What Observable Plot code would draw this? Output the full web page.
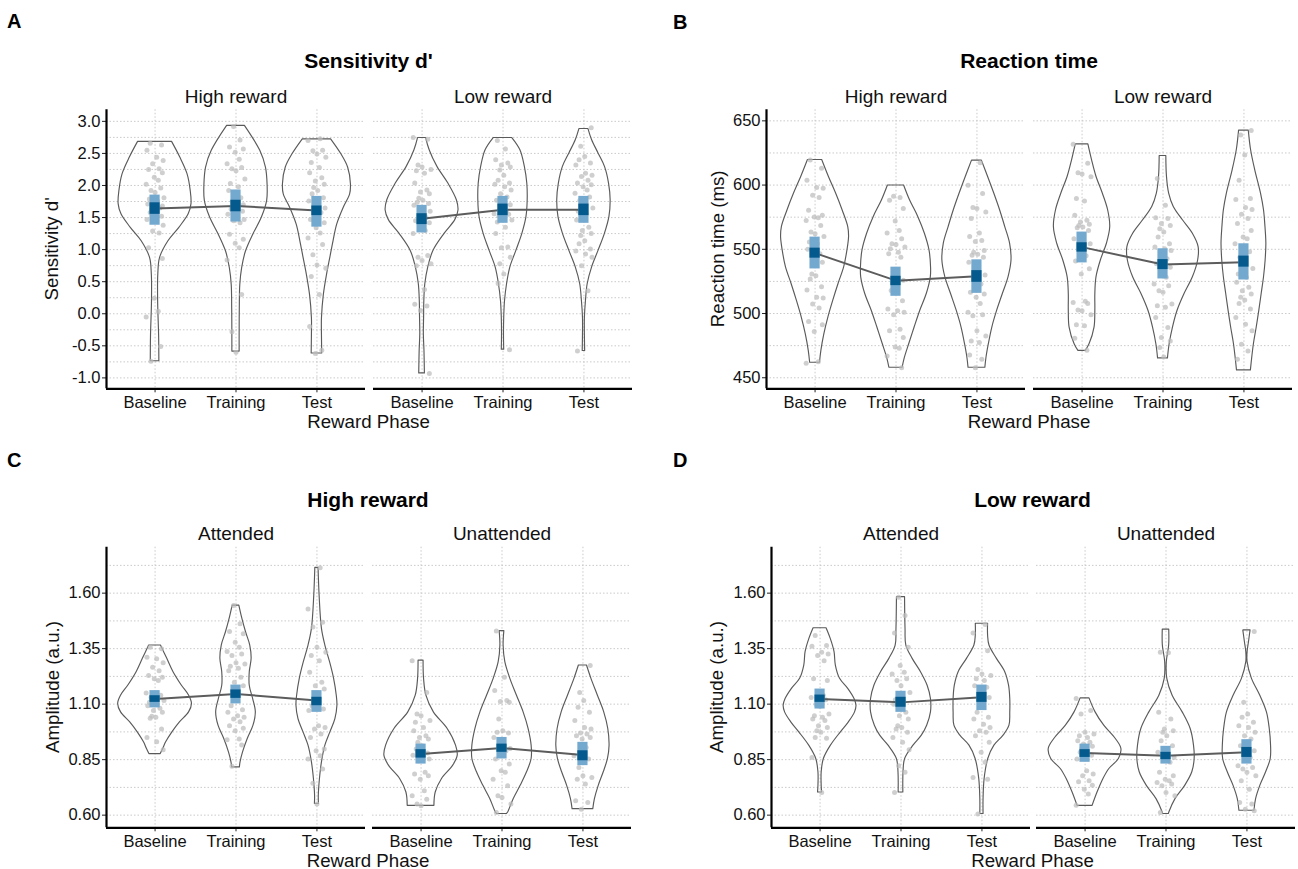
<!DOCTYPE html>
<html><head><meta charset="utf-8">
<script src="https://cdn.jsdelivr.net/npm/d3@7"></script>
<script src="https://cdn.jsdelivr.net/npm/@observablehq/plot@0.6"></script>
<style>
html,body{margin:0;padding:0;background:#fff;}
#page{position:relative;width:1298px;height:869px;overflow:hidden;font-family:"Liberation Sans",Arial,sans-serif;background:#fff;}
.panel{position:absolute;}
#overlay{position:absolute;left:0;top:0;pointer-events:none;}
</style></head><body><div id="page"></div>
<script>
// ---------------- shared categories / labels ----------------
const PHASES = ["Baseline", "Training", "Test"];
const X_DOMAIN = [0.4, 3.6];
const JITTER = [-0.06, 0.08, -0.10, 0.02, 0.10, -0.03, 0.05, -0.08, 0.09, -0.01, 0.04, -0.11, 0.07, -0.05, 0.00, 0.11, -0.07, 0.03, -0.09, 0.06, -0.02, 0.09, -0.04, 0.01];
const PANEL_LETTERS = ["A", "B", "C", "D"];
const PANEL_TITLES = ["Sensitivity d'", "Reaction time", "High reward", "Low reward"];
const Y_TITLES = ["Sensitivity d'", "Reaction time (ms)", "Amplitude (a.u.)", "Amplitude (a.u.)"];
const X_TITLE = "Reward Phase";
const REWARD_FACETS = ["High reward", "Low reward"];
const ATTN_FACETS = ["Attended", "Unattended"];

// ---------------- Panel A: Sensitivity d' ----------------
const A_TICKS = [-1.0, -0.5, 0.0, 0.5, 1.0, 1.5, 2.0, 2.5, 3.0];
const A_MINOR = [-0.75, -0.25, 0.25, 0.75, 1.25, 1.75, 2.25, 2.75];
const A_HIGH_VIOLIN = [
  [[2.68,0.21],[2.44,0.31],[2.18,0.40],[1.92,0.44],[1.71,0.45],[1.55,0.415],[1.34,0.30],[1.13,0.165],[0.87,0.062],[0.61,0.04],[0.19,0.038],[-0.34,0.05],[-0.74,0.053]],
  [[2.93,0.11],[2.54,0.30],[2.28,0.37],[2.02,0.39],[1.76,0.385],[1.50,0.32],[1.24,0.216],[0.97,0.123],[0.71,0.076],[0.45,0.053],[0.08,0.047],[-0.34,0.045],[-0.59,0.045]],
  [[2.72,0.175],[2.49,0.30],[2.28,0.385],[2.02,0.42],[1.86,0.41],[1.65,0.33],[1.39,0.25],[1.13,0.205],[0.87,0.165],[0.61,0.125],[0.29,0.085],[-0.07,0.062],[-0.34,0.062],[-0.62,0.065]]
];
const A_HIGH_POINTS = [
  [2.66,2.63,2.55,2.44,2.39,2.34,2.26,2.25,2.20,2.13,2.08,2.02,1.96,1.92,1.89,1.81,1.79,1.76,1.71,1.65,1.60,1.68,1.62,1.55,1.58,1.52,1.47,1.45,1.38,1.29,1.26,1.03,0.86,0.24,0.04,-0.05,-0.51,-0.74],
  [2.92,2.71,2.60,2.57,2.52,2.41,2.34,2.28,2.26,2.23,2.10,2.03,1.98,1.92,1.81,1.76,1.70,1.75,1.66,1.63,1.60,1.55,1.50,1.47,1.45,1.42,1.24,1.16,1.10,1.03,0.84,0.30,-0.28,-0.60],
  [2.73,2.70,2.55,2.54,2.49,2.44,2.36,2.28,2.20,2.12,2.07,2.02,1.97,1.92,1.87,1.81,1.76,1.71,1.65,1.60,1.58,1.47,1.42,1.34,1.26,1.18,1.08,0.92,0.76,0.71,0.58,0.30,-0.20,-0.57,-0.62]
];
const A_HIGH_MEAN = [1.64, 1.68, 1.61];
const A_HIGH_SE = [[1.55,1.73],[1.59,1.77],[1.53,1.68]];
const A_HIGH_CI = [[1.38,1.85],[1.43,1.93],[1.35,1.83]];
const A_LOW_VIOLIN = [
  [[2.74,0.05],[2.55,0.094],[2.29,0.19],[2.03,0.325],[1.77,0.43],[1.61,0.45],[1.46,0.41],[1.25,0.28],[0.98,0.14],[0.72,0.076],[0.46,0.04],[0.20,0.028],[-0.06,0.025],[-0.32,0.022],[-0.59,0.03],[-0.93,0.035]],
  [[2.74,0.115],[2.55,0.215],[2.29,0.27],[2.03,0.30],[1.77,0.305],[1.51,0.29],[1.25,0.24],[0.98,0.165],[0.72,0.09],[0.46,0.05],[0.20,0.025],[-0.06,0.015],[-0.32,0.012],[-0.56,0.015]],
  [[2.88,0.056],[2.71,0.10],[2.50,0.18],[2.29,0.26],[2.03,0.31],[1.77,0.33],[1.51,0.315],[1.25,0.26],[0.98,0.18],[0.72,0.10],[0.46,0.046],[0.20,0.025],[-0.06,0.012],[-0.58,0.015]]
];
const A_LOW_POINTS = [
  [2.75,2.72,2.32,2.29,2.25,2.23,2.19,2.04,1.93,1.90,1.87,1.80,1.77,1.74,1.72,1.69,1.64,1.60,1.56,1.50,1.45,1.42,1.35,1.30,1.25,0.91,0.88,0.83,0.78,0.75,0.38,0.15,0.12,0.05,-0.93],
  [2.70,2.57,2.40,2.35,2.32,2.29,2.24,2.16,2.08,2.04,2.02,1.98,1.93,1.87,1.82,1.77,1.70,1.66,1.60,1.56,1.55,1.52,1.51,1.46,1.43,1.35,1.25,1.04,1.03,0.88,0.78,0.62,0.47,-0.56],
  [2.90,2.61,2.45,2.40,2.35,2.32,2.19,2.16,2.14,2.08,2.04,2.01,1.98,1.93,1.88,1.82,1.77,1.66,1.65,1.60,1.56,1.46,1.35,1.30,1.25,1.22,1.14,1.09,1.01,0.98,0.93,0.88,0.75,0.36,-0.58]
];
const A_LOW_MEAN = [1.48, 1.62, 1.62];
const A_LOW_SE = [[1.39,1.56],[1.53,1.71],[1.53,1.71]];
const A_LOW_CI = [[1.26,1.69],[1.41,1.83],[1.41,1.83]];

// ---------------- Panel B: Reaction time ----------------
const B_TICKS = [450, 500, 550, 600, 650];
const B_MINOR = [475, 525, 575, 625];
const B_HIGH_VIOLIN = [
  [[619.5,0.088],[606.5,0.17],[593.4,0.26],[580.4,0.34],[567.3,0.41],[559.5,0.42],[549.1,0.40],[536.1,0.36],[523.0,0.29],[510.0,0.225],[497.0,0.165],[483.9,0.115],[470.9,0.078],[461.7,0.061]],
  [[599.7,0.10],[588.2,0.173],[575.2,0.275],[562.1,0.357],[549.1,0.414],[536.1,0.433],[528.2,0.43],[515.2,0.38],[502.2,0.30],[489.1,0.23],[476.1,0.163],[465.6,0.11],[457.8,0.082]],
  [[619.0,0.061],[606.5,0.137],[593.4,0.214],[580.4,0.286],[567.3,0.35],[554.3,0.41],[541.3,0.427],[528.2,0.39],[515.2,0.32],[502.2,0.25],[489.1,0.19],[476.1,0.147],[465.6,0.118],[457.8,0.104]]
];
const B_HIGH_POINTS = [
  [619.5,613.0,603.8,598.1,597.5,592.1,590.3,580.4,576.5,575.2,574.6,572.5,568.6,563.4,562.1,560.0,555.6,554.3,550.0,546.5,543.3,540.0,530.8,529.5,526.9,520.9,518.3,512.6,512.1,507.4,504.3,493.8,491.2,486.0,462.5,461.2],
  [591.3,590.3,588.2,581.7,572.0,564.7,562.6,558.2,554.3,553.8,551.7,550.4,547.8,546.5,543.9,531.1,525.9,524.0,520.6,518.0,510.0,503.5,502.2,500.9,499.0,487.8,486.5,481.3,474.0,473.0,467.0,457.8],
  [617.4,599.9,593.4,582.5,581.7,579.1,573.9,562.6,560.0,556.9,556.0,549.1,547.8,546.1,545.3,543.9,540.0,537.4,530.0,527.0,523.0,516.5,515.2,512.6,507.9,500.9,499.0,498.2,486.5,482.6,478.7,477.4,467.8,464.4,457.8]
];
const B_HIGH_MEAN = [547.0, 525.6, 529.0];
const B_HIGH_SE = [[543.1,550.9],[521.7,529.0],[524.3,533.4]];
const B_HIGH_CI = [[534.7,559.5],[513.4,536.1],[515.7,541.8]];
const B_LOW_VIOLIN = [
  [[631.7,0.078],[619.5,0.123],[606.5,0.178],[593.4,0.256],[580.4,0.322],[567.3,0.348],[554.3,0.307],[541.3,0.232],[528.2,0.178],[515.2,0.164],[502.2,0.164],[489.1,0.154],[476.1,0.092],[470.9,0.045]],
  [[622.6,0.041],[606.5,0.049],[593.4,0.076],[583.0,0.133],[572.6,0.246],[562.1,0.369],[551.7,0.44],[541.3,0.434],[528.2,0.369],[515.2,0.266],[502.2,0.18],[489.1,0.123],[476.1,0.082],[465.1,0.061]],
  [[642.4,0.06],[627.3,0.088],[611.7,0.139],[593.4,0.211],[580.4,0.248],[567.3,0.266],[554.3,0.277],[541.3,0.268],[528.2,0.248],[515.2,0.219],[502.2,0.19],[489.1,0.158],[476.1,0.123],[463.0,0.098],[455.7,0.086]]
];
const B_LOW_POINTS = [
  [631.7,616.9,609.6,608.6,606.5,589.5,587.6,576.5,572.6,571.3,569.5,568.6,567.3,566.8,564.7,558.2,555.0,554.3,550.0,545.0,540.8,534.8,530.8,509.5,508.6,507.9,502.7,502.2,499.0,491.2,490.4,480.8,471.4],
  [605.2,584.3,574.6,573.9,570.0,568.6,566.0,563.4,559.5,554.3,551.7,550.4,549.1,547.0,542.6,538.7,536.1,530.8,528.2,523.0,521.7,517.8,516.5,507.4,506.1,504.8,496.9,489.1,481.3,478.7,473.5,466.2],
  [642.4,639.0,623.4,603.8,589.5,588.7,582.5,580.9,577.2,573.9,570.0,564.7,559.5,558.2,554.3,548.0,543.9,538.7,535.0,530.8,528.2,524.3,520.4,517.8,515.2,512.6,510.5,507.9,503.5,497.0,491.7,486.5,476.1,470.9,464.4]
];
const B_LOW_MEAN = [551.7, 538.1, 540.0];
const B_LOW_SE = [[547.8,555.1],[534.2,542.0],[536.1,544.7]];
const B_LOW_CI = [[539.4,563.4],[526.9,550.4],[526.1,554.3]];

// ---------------- Panels C & D: Amplitude ----------------
const AMP_TICKS = [0.60, 0.85, 1.10, 1.35, 1.60];
const AMP_MINOR = [0.725, 0.975, 1.225, 1.475, 1.725];
const C_ATT_VIOLIN = [
  [[1.364,0.073],[1.304,0.151],[1.244,0.228],[1.183,0.332],[1.138,0.421],[1.101,0.456],[1.063,0.42],[1.018,0.307],[0.973,0.214],[0.928,0.137],[0.898,0.10],[0.875,0.07]],
  [[1.544,0.041],[1.484,0.079],[1.424,0.124],[1.364,0.176],[1.304,0.193],[1.244,0.17],[1.183,0.17],[1.123,0.212],[1.063,0.245],[1.003,0.216],[0.943,0.145],[0.883,0.087],[0.838,0.056],[0.815,0.048]],
  [[1.714,0.02],[1.589,0.033],[1.439,0.062],[1.364,0.104],[1.289,0.162],[1.214,0.212],[1.138,0.245],[1.093,0.253],[1.033,0.228],[0.973,0.166],[0.913,0.104],[0.838,0.062],[0.762,0.037],[0.687,0.023],[0.650,0.025]]
];
const C_ATT_POINTS = [
  [1.356,1.349,1.311,1.304,1.286,1.266,1.251,1.229,1.221,1.214,1.206,1.15,1.14,1.13,1.12,1.116,1.108,1.10,1.093,1.081,1.071,1.063,1.045,1.041,1.036,0.988,0.950,0.931,0.895],
  [1.544,1.462,1.427,1.417,1.379,1.356,1.337,1.326,1.319,1.286,1.281,1.271,1.262,1.251,1.221,1.199,1.183,1.16,1.14,1.093,1.075,1.063,1.048,1.041,1.033,1.021,1.003,0.991,0.980,0.943,0.940,0.916,0.820],
  [1.714,1.529,1.469,1.447,1.356,1.334,1.319,1.296,1.244,1.199,1.183,1.168,1.12,1.11,1.093,1.078,1.071,1.003,0.995,0.988,0.965,0.950,0.898,0.890,0.868,0.853,0.808,0.744,0.650]
];
const C_ATT_MEAN = [1.123, 1.146, 1.116];
const C_ATT_SE = [[1.108,1.138],[1.126,1.164],[1.093,1.131]];
const C_ATT_CI = [[1.083,1.161],[1.101,1.186],[1.063,1.161]];
const C_UNATT_VIOLIN = [
  [[1.296,0.031],[1.214,0.037],[1.138,0.066],[1.063,0.158],[0.988,0.329],[0.913,0.432],[0.868,0.453],[0.823,0.397],[0.762,0.257],[0.702,0.181],[0.642,0.165]],
  [[1.429,0.029],[1.364,0.02],[1.289,0.041],[1.214,0.103],[1.138,0.185],[1.063,0.267],[0.988,0.329],[0.913,0.366],[0.853,0.366],[0.793,0.309],[0.732,0.23],[0.672,0.144],[0.612,0.076],[0.605,0.06]],
  [[1.274,0.05],[1.214,0.105],[1.138,0.185],[1.063,0.263],[0.988,0.313],[0.913,0.329],[0.853,0.309],[0.793,0.257],[0.732,0.195],[0.672,0.148],[0.627,0.128]]
];
const C_UNATT_POINTS = [
  [1.296,1.153,1.056,1.048,1.026,1.018,0.995,0.980,0.958,0.950,0.943,0.928,0.913,0.898,0.88,0.87,0.86,0.853,0.845,0.793,0.785,0.778,0.762,0.710,0.687,0.672,0.650,0.642],
  [1.429,1.221,1.161,1.116,1.112,1.108,1.033,0.980,0.973,0.970,0.950,0.913,0.90,0.895,0.89,0.853,0.830,0.800,0.793,0.762,0.732,0.687,0.680,0.650,0.612],
  [1.274,1.153,1.116,1.086,1.063,1.026,0.995,0.988,0.970,0.965,0.958,0.950,0.943,0.905,0.868,0.853,0.815,0.778,0.770,0.762,0.740,0.665,0.657,0.627]
];
const C_UNATT_MEAN = [0.875, 0.902, 0.871];
const C_UNATT_SE = [[0.857,0.895],[0.883,0.920],[0.845,0.890]];
const C_UNATT_CI = [[0.830,0.920],[0.853,0.950],[0.823,0.928]];

const D_ATT_VIOLIN = [
  [[1.442,0.08],[1.394,0.132],[1.334,0.179],[1.274,0.195],[1.214,0.247],[1.168,0.35],[1.123,0.426],[1.093,0.45],[1.063,0.432],[1.018,0.356],[0.973,0.257],[0.913,0.134],[0.853,0.047],[0.793,0.02],[0.732,0.02],[0.702,0.025]],
  [[1.582,0.05],[1.439,0.056],[1.364,0.066],[1.304,0.144],[1.244,0.247],[1.183,0.329],[1.123,0.37],[1.063,0.37],[1.003,0.323],[0.958,0.257],[0.913,0.154],[0.853,0.051],[0.793,0.031],[0.702,0.029]],
  [[1.462,0.076],[1.409,0.076],[1.364,0.093],[1.304,0.185],[1.244,0.288],[1.183,0.335],[1.123,0.35],[1.063,0.35],[1.003,0.34],[0.958,0.267],[0.913,0.154],[0.853,0.078],[0.762,0.033],[0.672,0.02],[0.605,0.02]]
];
const D_ATT_POINTS = [
  [1.409,1.364,1.361,1.334,1.326,1.319,1.296,1.214,1.206,1.153,1.14,1.13,1.12,1.10,1.09,1.056,1.048,1.041,1.033,1.026,1.003,0.995,0.980,0.973,0.950,0.946,0.860,0.702],
  [1.582,1.499,1.421,1.356,1.274,1.244,1.236,1.214,1.206,1.183,1.153,1.12,1.11,1.10,1.063,1.048,1.033,1.003,0.995,0.988,0.973,0.950,0.928,0.895,0.823,0.793,0.702],
  [1.459,1.421,1.341,1.256,1.236,1.229,1.214,1.206,1.183,1.176,1.153,1.13,1.12,1.093,1.063,1.041,1.033,1.010,0.995,0.980,0.973,0.958,0.928,0.883,0.838,0.770,0.762,0.605]
];
const D_ATT_MEAN = [1.123, 1.108, 1.131];
const D_ATT_SE = [[1.108,1.141],[1.086,1.131],[1.108,1.153]];
const D_ATT_CI = [[1.078,1.168],[1.063,1.158],[1.071,1.186]];
const D_UNATT_VIOLIN = [
  [[1.126,0.055],[1.063,0.13],[1.003,0.237],[0.943,0.38],[0.898,0.449],[0.853,0.418],[0.808,0.30],[0.762,0.226],[0.702,0.154],[0.642,0.093]],
  [[1.436,0.04],[1.364,0.039],[1.289,0.01],[1.214,0.016],[1.138,0.082],[1.063,0.206],[0.988,0.305],[0.913,0.346],[0.853,0.354],[0.793,0.325],[0.732,0.237],[0.672,0.117],[0.612,0.041],[0.605,0.035]],
  [[1.432,0.045],[1.379,0.025],[1.334,0.008],[1.289,0.008],[1.214,0.062],[1.138,0.165],[1.063,0.247],[0.988,0.282],[0.913,0.298],[0.853,0.294],[0.793,0.237],[0.732,0.165],[0.672,0.113],[0.620,0.093]]
];
const D_UNATT_POINTS = [
  [1.126,1.071,1.056,0.973,0.965,0.958,0.950,0.935,0.928,0.92,0.91,0.90,0.89,0.883,0.87,0.853,0.800,0.785,0.778,0.755,0.750,0.735,0.717,0.695,0.645],
  [1.334,1.331,1.063,1.033,0.988,0.980,0.973,0.958,0.935,0.913,0.883,0.87,0.86,0.853,0.838,0.793,0.778,0.762,0.755,0.747,0.740,0.732,0.702,0.687,0.612],
  [1.427,1.108,1.056,1.041,1.018,1.003,0.995,0.973,0.958,0.943,0.913,0.89,0.883,0.86,0.823,0.815,0.808,0.793,0.778,0.755,0.717,0.657,0.650,0.627,0.620]
];
const D_UNATT_MEAN = [0.880, 0.868, 0.883];
const D_UNATT_SE = [[0.860,0.895],[0.850,0.883],[0.860,0.905]];
const D_UNATT_CI = [[0.838,0.920],[0.830,0.910],[0.830,0.940]];

// ---------------- styles ----------------
const FONT = '"Liberation Sans", Arial, Helvetica, sans-serif';
const INK = "#111";
const GRID = {stroke: "#c4c4c4", strokeWidth: 0.9, strokeDasharray: "1.5,2"};
const CI_FILL = "#74a9cf", SE_FILL = "#045a8d";
const BOX_HALF = 0.063;

function buildPanel(c) {
  const vrows = [], pts = [], stats = [];
  c.facets.forEach((f, fi) => {
    PHASES.forEach((ph, i) => {
      const pos = i + 1;
      c.violins[fi][i].forEach(([v, w]) => vrows.push({f, id: f + "|" + ph, y: v, x1: pos - w, x2: pos + w}));
      c.points[fi][i].forEach((v, k) => pts.push({f, x: pos + JITTER[(k + i * 5 + fi * 11) % JITTER.length], y: v}));
      stats.push({f, x: pos, mean: c.mean[fi][i], seLo: c.se[fi][i][0], seHi: c.se[fi][i][1], ciLo: c.ci[fi][i][0], ciHi: c.ci[fi][i][1]});
    });
  });
  const W = c.facetW, S = 2 * W + c.gap;
  const marginLeft = c.left - c.svgLeft;
  const marginRight = c.svgW - marginLeft - S;
  const marginTop = c.plotTop - c.svgTop;
  const marginBottom = c.svgTop + c.svgH - c.plotBottom;
  const chart = Plot.plot({
    width: c.svgW, height: c.svgH,
    marginLeft, marginRight, marginTop, marginBottom,
    style: {fontFamily: FONT, background: "transparent", color: INK, overflow: "visible"},
    fx: {domain: c.facets, paddingInner: c.gap / (W + c.gap), paddingOuter: 0, axis: null},
    x: {domain: X_DOMAIN},
    y: {domain: c.yDomain},
    marks: [
      Plot.ruleY(c.ticks, GRID),
      Plot.ruleY(c.minor, GRID),
      Plot.ruleX([1, 2, 3], GRID),
      Plot.areaX(vrows, {y: "y", x1: "x1", x2: "x2", z: "id", fx: "f", fill: "none", stroke: "#5a5a5a", strokeWidth: 1.15, curve: "catmull-rom"}),
      Plot.dot(pts, {x: "x", y: "y", fx: "f", r: 2.5, fill: "#bcbcbc", fillOpacity: 0.72, stroke: "none"}),
      Plot.line(stats, {x: "x", y: "mean", z: "f", fx: "f", stroke: "#5c5c5c", strokeWidth: 2}),
      Plot.rect(stats, {x1: d => d.x - BOX_HALF, x2: d => d.x + BOX_HALF, y1: "ciLo", y2: "ciHi", fx: "f", fill: CI_FILL}),
      Plot.rect(stats, {x1: d => d.x - BOX_HALF, x2: d => d.x + BOX_HALF, y1: "seLo", y2: "seHi", fx: "f", fill: SE_FILL}),
      Plot.axisY({ticks: c.ticks, tickFormat: c.fmt, tickSize: 4, tickPadding: 2, fontSize: 16.5, label: null, stroke: "#222"}),
      Plot.axisX({ticks: [1, 2, 3], tickFormat: d => PHASES[d - 1], tickSize: 4, tickPadding: 3, fontSize: 16.5, label: null, stroke: "#222"}),
      Plot.ruleY([c.yDomain[0]], {stroke: "#000", strokeWidth: 2.2}),
      Plot.ruleX([X_DOMAIN[0]], {fx: [c.facets[0]], stroke: "#000", strokeWidth: 2.2}),
      Plot.text(c.facets, {fx: d => d, text: d => d, frameAnchor: "top", lineAnchor: "bottom", dy: -7, fontSize: 19, fill: INK})
    ]
  });
  const div = document.createElement("div");
  div.className = "panel";
  div.style.left = c.svgLeft + "px";
  div.style.top = c.svgTop + "px";
  div.style.width = c.svgW + "px";
  div.style.height = c.svgH + "px";
  div.appendChild(chart);
  document.getElementById("page").appendChild(div);
}

const fmt1 = d => d.toFixed(1);
const fmt0 = d => d.toFixed(0);
const fmt2 = d => d.toFixed(2);

const PANELS = [
  {facets: REWARD_FACETS, violins: [A_HIGH_VIOLIN, A_LOW_VIOLIN], points: [A_HIGH_POINTS, A_LOW_POINTS],
   mean: [A_HIGH_MEAN, A_LOW_MEAN], se: [A_HIGH_SE, A_LOW_SE], ci: [A_HIGH_CI, A_LOW_CI],
   ticks: A_TICKS, minor: A_MINOR, fmt: fmt1, yDomain: [-1.17, 3.18],
   svgLeft: 0, svgTop: 75, svgW: 640, svgH: 345, left: 105.5, facetW: 259, gap: 8, plotTop: 109.3, plotBottom: 388.3},
  {facets: REWARD_FACETS, violins: [B_HIGH_VIOLIN, B_LOW_VIOLIN], points: [B_HIGH_POINTS, B_LOW_POINTS],
   mean: [B_HIGH_MEAN, B_LOW_MEAN], se: [B_HIGH_SE, B_LOW_SE], ci: [B_HIGH_CI, B_LOW_CI],
   ticks: B_TICKS, minor: B_MINOR, fmt: fmt0, yDomain: [441.4, 658.6],
   svgLeft: 640, svgTop: 75, svgW: 658, svgH: 345, left: 766, facetW: 259, gap: 8, plotTop: 109.3, plotBottom: 388.3},
  {facets: ATTN_FACETS, violins: [C_ATT_VIOLIN, C_UNATT_VIOLIN], points: [C_ATT_POINTS, C_UNATT_POINTS],
   mean: [C_ATT_MEAN, C_UNATT_MEAN], se: [C_ATT_SE, C_UNATT_SE], ci: [C_ATT_CI, C_UNATT_CI],
   ticks: AMP_TICKS, minor: AMP_MINOR, fmt: fmt2, yDomain: [0.543, 1.807],
   svgLeft: 0, svgTop: 515, svgW: 640, svgH: 354, left: 105.5, facetW: 259, gap: 7, plotTop: 546.7, plotBottom: 827.3},
  {facets: ATTN_FACETS, violins: [D_ATT_VIOLIN, D_UNATT_VIOLIN], points: [D_ATT_POINTS, D_UNATT_POINTS],
   mean: [D_ATT_MEAN, D_UNATT_MEAN], se: [D_ATT_SE, D_UNATT_SE], ci: [D_ATT_CI, D_UNATT_CI],
   ticks: AMP_TICKS, minor: AMP_MINOR, fmt: fmt2, yDomain: [0.543, 1.807],
   svgLeft: 640, svgTop: 515, svgW: 658, svgH: 354, left: 770.5, facetW: 259, gap: 6, plotTop: 546.7, plotBottom: 827.3}
];
PANELS.forEach(buildPanel);

// ---------------- overlay text: letters, titles, axis titles ----------------
const LAYOUT = [
  {letter: [7, 28], title: [368.5, 68.3], ytitle: [58, 248.8], xtitle: [368.5, 428.3]},
  {letter: [673, 29], title: [1029, 68.3], ytitle: [723.5, 248.8], xtitle: [1029, 428.3]},
  {letter: [7, 467], title: [368, 506.7], ytitle: [58.5, 687], xtitle: [368, 866.5]},
  {letter: [673, 467], title: [1032.5, 506.7], ytitle: [723, 687], xtitle: [1032.5, 866.5]}
];
const ov = d3.select("#page").append("svg").attr("id", "overlay").attr("width", 1298).attr("height", 869)
  .style("font-family", FONT);
LAYOUT.forEach((L, i) => {
  ov.append("text").attr("x", L.letter[0]).attr("y", L.letter[1]).attr("font-size", 20).attr("font-weight", "bold").attr("fill", "#000").text(PANEL_LETTERS[i]);
  ov.append("text").attr("x", L.title[0]).attr("y", L.title[1]).attr("text-anchor", "middle").attr("font-size", 21).attr("font-weight", "bold").attr("fill", "#000").text(PANEL_TITLES[i]);
  ov.append("text").attr("transform", `translate(${L.ytitle[0]},${L.ytitle[1]}) rotate(-90)`).attr("text-anchor", "middle").attr("font-size", 18.7).attr("fill", INK).text(Y_TITLES[i]);
  ov.append("text").attr("x", L.xtitle[0]).attr("y", L.xtitle[1]).attr("text-anchor", "middle").attr("font-size", 18.7).attr("fill", INK).text(X_TITLE);
});
</script>
</body></html>
